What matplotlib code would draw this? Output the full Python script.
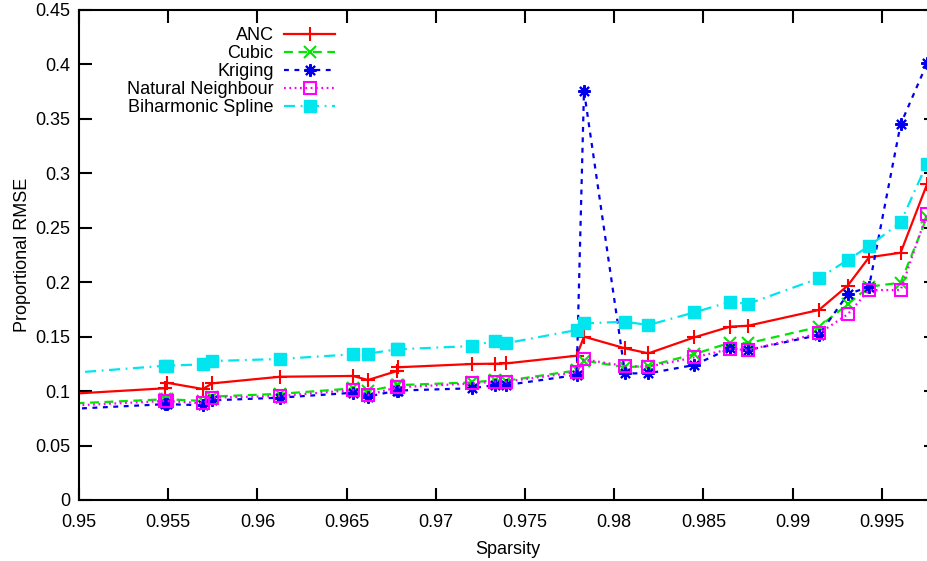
import matplotlib
matplotlib.use('Agg')
import matplotlib.pyplot as plt
import matplotlib.ticker as ticker
from matplotlib import rcParams

rcParams['font.family'] = 'sans-serif'
rcParams['font.sans-serif'] = ['Liberation Sans', 'DejaVu Sans']

# sparsity values (first point is just left of the visible range)
sparsity = [0.9490, 0.95482, 0.95493, 0.95695, 0.95746, 0.96127, 0.96536,
            0.96620, 0.96783, 0.96788, 0.97203, 0.97332, 0.97392, 0.97790,
            0.97831, 0.98061, 0.98192, 0.98450, 0.98650, 0.98749, 0.99148,
            0.99309, 0.99429, 0.99606, 0.99754]

anc = [0.0970, 0.1026, 0.1077, 0.1019, 0.1071, 0.1132, 0.1139, 0.1102,
       0.1185, 0.1219, 0.1249, 0.1252, 0.1254, 0.1325, 0.1500, 0.1393,
       0.1347, 0.1494, 0.1592, 0.1600, 0.1745, 0.1968, 0.2229, 0.2271, 0.2900]

cubic = [0.0882, 0.0925, 0.0925, 0.0910, 0.0950, 0.0975, 0.1025, 0.1000,
         0.1055, 0.1055, 0.1080, 0.1100, 0.1095, 0.1190, 0.1280, 0.1220,
         0.1230, 0.1340, 0.1445, 0.1439, 0.1590, 0.1797, 0.1959, 0.1996, 0.2600]

kriging = [0.0832, 0.0880, 0.0880, 0.0870, 0.0915, 0.0940, 0.0985, 0.0950,
           0.1005, 0.1005, 0.1026, 0.1055, 0.1055, 0.1148, 0.3759, 0.1163,
           0.1163, 0.1240, 0.1393, 0.1377, 0.1515, 0.1889, 0.1959, 0.3450, 0.4010]

natural = [0.0862, 0.0909, 0.0909, 0.0888, 0.0940, 0.0955, 0.1010, 0.0964,
           0.1035, 0.1035, 0.1070, 0.1087, 0.1087, 0.1173, 0.1292, 0.1230,
           0.1224, 0.1310, 0.1387, 0.1377, 0.1530, 0.1705, 0.1928, 0.1928, 0.2630]

biharmonic = [0.1160, 0.1233, 0.1233, 0.1246, 0.1276, 0.1295, 0.1338, 0.1344,
              0.1384, 0.1384, 0.1414, 0.1463, 0.1439, 0.1561, 0.1622, 0.1637,
              0.1607, 0.1723, 0.1821, 0.1800, 0.2036, 0.2204, 0.2332, 0.2550, 0.3090]

W, H = 928, 561
fig = plt.figure(figsize=(W / 100, H / 100), dpi=100)
# axes box in pixels: left 79, right 936 (past the image edge), top 10, bottom 500
ax = fig.add_axes([79 / W, (H - 500) / H, (936 - 79) / W, 490 / H])

lw = 1.6
ax.plot(sparsity, anc, color='#ff0000', lw=lw, ls='-', marker='+',
        ms=10, mew=1.5, label='ANC')
ax.plot(sparsity, cubic, color='#00e600', lw=lw, dashes=(4, 2.5), marker='x',
        ms=8, mew=1.5, label='Cubic')
ax.plot(sparsity, kriging, color='#0000ee', lw=lw, dashes=(2.2, 2.5),
        marker=(8, 2, 0), ms=9, mew=1.5, label='Kriging')
ax.plot(sparsity, natural, color='#ff00ff', lw=lw, dashes=(0.8, 1.6), marker='s',
        ms=8, mew=1.5, mfc='none', label='Natural Neighbour')
ax.plot(sparsity, biharmonic, color='#00e5ee', lw=lw, dashes=(5, 2.5, 0.8, 2.5),
        marker='s', ms=8, mew=1, label='Biharmonic Spline')

ax.set_xlim(0.95, 0.95 + (936 - 79) / 17838)
ax.set_ylim(0, 0.45)
ax.xaxis.set_major_locator(ticker.MultipleLocator(0.005))
ax.yaxis.set_major_locator(ticker.MultipleLocator(0.05))
ax.xaxis.set_major_formatter(ticker.FormatStrFormatter('%g'))
ax.yaxis.set_major_formatter(ticker.FormatStrFormatter('%g'))
ax.tick_params(direction='in', length=9, width=1.5, top=True, right=True,
               labelsize=13, pad=6)
ax.tick_params(axis='x', pad=10)
for s in ax.spines.values():
    s.set_linewidth(1.5)

ax.set_xlabel('Sparsity', fontsize=13, labelpad=7)
ax.set_ylabel('Proportional RMSE', fontsize=13, labelpad=3)

ax.legend(loc='upper right', bbox_to_anchor=(335 / W, (H - 27) / H),
          bbox_transform=fig.transFigure, frameon=False, markerfirst=False,
          fontsize=13, handlelength=2.8, handletextpad=0.6, labelspacing=0.06,
          borderpad=0, borderaxespad=0, numpoints=1)

fig.savefig('out.png', dpi=100)
